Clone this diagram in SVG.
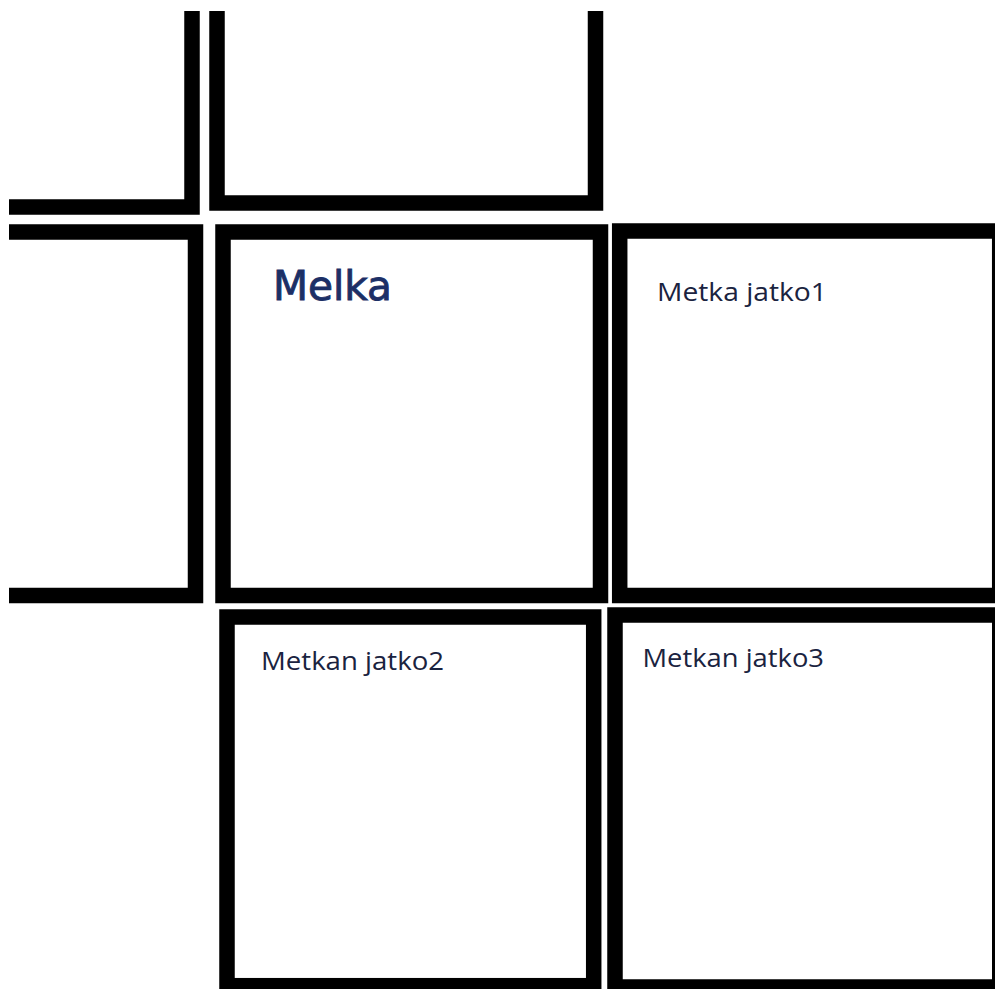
<svg xmlns="http://www.w3.org/2000/svg" width="995" height="989" viewBox="0 0 995 989">
<style>
.box{fill:none;stroke:#000;stroke-width:15.5;stroke-linejoin:miter}
.lbl{font-family:"Open Sans","Liberation Sans",sans-serif;font-size:25px;fill:#1a2340}
.big{font-family:"DejaVu Sans","Liberation Sans",sans-serif;font-size:40px;fill:#1c2f66;stroke:#1c2f66;stroke-width:0.9}
</style>
<defs>
<clipPath id="page"><rect x="9" y="11" width="986" height="978"/></clipPath>
</defs>
<rect x="0" y="0" width="995" height="989" fill="#fff"/>
<g clip-path="url(#page)">
<g id="box-top-left"><rect class="box" x="-100" y="-100" width="292" height="307"/></g>
<g id="box-top-middle"><rect class="box" x="217" y="-100" width="378.5" height="303"/></g>
<g id="box-mid-left"><rect class="box" x="-100" y="232" width="295.5" height="363.5"/></g>
<g id="box-melka"><rect class="box" x="223" y="232" width="377.5" height="363.5"/>
<text class="big" x="273" y="300" textLength="119" lengthAdjust="spacingAndGlyphs">Melka</text></g>
<g id="box-jatko1"><rect class="box" x="619.7" y="231" width="380" height="364.5"/>
<text class="lbl" x="657" y="300.5" textLength="170" lengthAdjust="spacingAndGlyphs">Metka jatko1</text></g>
<g id="box-jatko2"><rect class="box" x="227" y="617" width="366.7" height="368.7"/>
<text class="lbl" x="261" y="670" textLength="183" lengthAdjust="spacingAndGlyphs">Metkan jatko2</text></g>
<g id="box-jatko3"><rect class="box" x="615" y="615" width="384.75" height="372"/>
<text class="lbl" x="642.5" y="667.3" textLength="181.5" lengthAdjust="spacingAndGlyphs">Metkan jatko3</text></g>
</g>
</svg>
